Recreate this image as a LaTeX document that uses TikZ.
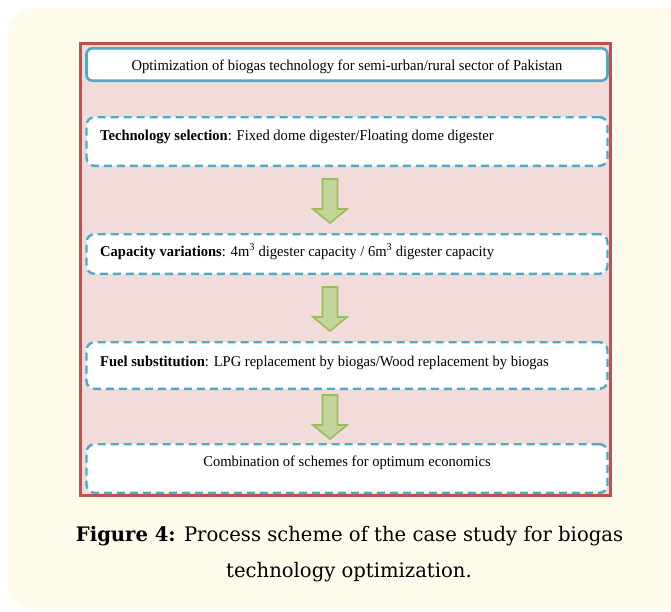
\documentclass[tikz,border=0pt]{standalone}
\usepackage{fontspec}
\setmainfont{Liberation Serif}
\newfontfamily\boxfont[FakeStretch=0.97]{Liberation Serif}
\newfontfamily\capfont[FakeStretch=0.98]{DejaVu Serif}
\definecolor{panelcream}{HTML}{FEFBEA}
\definecolor{schemepink}{HTML}{F2DCDB}
\definecolor{schemered}{HTML}{C0504D}
\definecolor{schemeblue}{HTML}{4BACC6}
\definecolor{arrowgreen}{HTML}{9BBB59}
\definecolor{arrowfill}{HTML}{C3D69B}

\begin{document}
\begin{tikzpicture}[x=1pt, y=-1pt,
	solidbox/.style={draw=schemeblue, line width=2.6pt, fill=white, rounded corners=6pt, minimum width=521pt, inner sep=0pt},
	dashbox/.style={draw=schemeblue, line width=2.4pt, dash pattern=on 8pt off 5pt, fill=white, rounded corners=8pt, minimum width=521pt, inner sep=0pt},
	boxtext/.style={font=\boxfont\fontsize{15}{17}\selectfont, inner sep=0pt},
	captext/.style={font=\capfont\fontsize{20}{24}\selectfont, inner sep=0pt},
	greenarrow/.style={draw=arrowgreen, fill=arrowfill, line width=1.6pt, line join=miter}]
		\clip (0,0) rectangle (671,611);
		\fill[panelcream, rounded corners=25pt] (8,8) rectangle (700,609);
		
		% outer frame
		\draw[white, line width=5pt] (80,43) rectangle (610,495);
		\draw[schemered, fill=schemepink, line width=3pt] (80,43) rectangle (610,495);
		
		% boxes
		\node[solidbox, minimum height=32.4pt] (title) at (347,64.5) {};
		\node[dashbox, minimum height=48.6pt] (tech) at (347,141.5) {};
		\node[dashbox, minimum height=39.6pt] (capa) at (347,254) {};
		\node[dashbox, minimum height=46.6pt] (fuel) at (347,365.5) {};
		\node[dashbox, minimum height=48.6pt] (comb) at (347,468.5) {};
		
		\node[boxtext, anchor=base] (titletxt) at (347,70) {Optimization of biogas technology for semi-urban/rural sector of Pakistan};
		\node[boxtext, anchor=base west] (techtxt) at (100,140) {\textbf{Technology selection}: Fixed dome digester/Floating dome digester};
		\node[boxtext, anchor=base west] (capatxt) at (100,256) {\textbf{Capacity variations}: 4m\textsuperscript{3} digester capacity / 6m\textsuperscript{3} digester capacity};
		\node[boxtext, anchor=base west] (fueltxt) at (100,366) {\textbf{Fuel substitution}: LPG replacement by biogas/Wood replacement by biogas};
		\node[boxtext, anchor=base] (combtxt) at (347,466.5) {Combination of schemes for optimum economics};
		
		% block arrows between the boxes
		\foreach \top in {179,287,395}
			\draw[greenarrow] (322.5,\top) -- (337.5,\top) -- (337.5,\top+30) -- (347,\top+30) -- (330,\top+44) -- (313,\top+30) -- (322.5,\top+30) -- cycle;
		
		% caption
		\node[captext, anchor=base] (capline1) at (349.5,541) {\textbf{Figure 4:} Process scheme of the case study for biogas};
		\node[captext, anchor=base] (capline2) at (349,577) {technology optimization.};
\end{tikzpicture}
\end{document}
